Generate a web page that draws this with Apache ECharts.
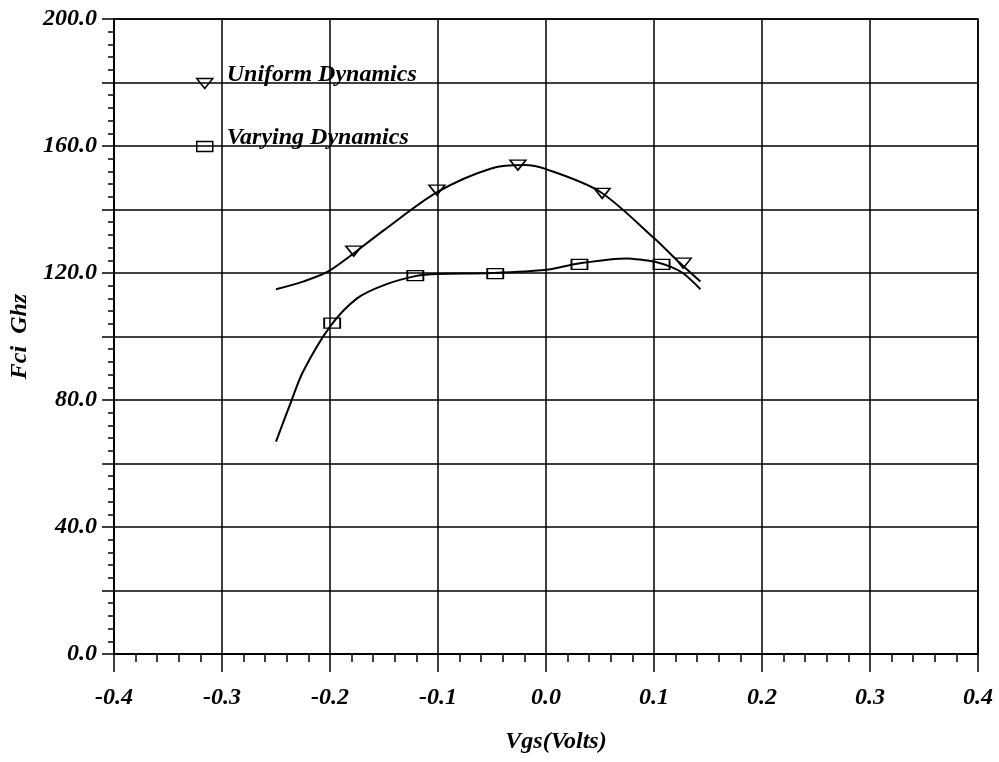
<!DOCTYPE html>
<html>
<head>
<meta charset="utf-8">
<title>Fci vs Vgs</title>
<script src="https://cdn.jsdelivr.net/npm/echarts@6/dist/echarts.min.js"></script>
<style>
  html, body { margin: 0; padding: 0; background: #fff; }
  #chart { width: 999px; height: 762px; }
</style>
</head>
<body>
<div id="chart"></div>
<script>
// Measured points (markers)
const uniformVgs = [-0.178, -0.101, -0.026, 0.052, 0.127];
const uniformFci = [126.9, 146.1, 154.0, 145.1, 123.1];
const varyingVgs = [-0.198, -0.121, -0.047, 0.031, 0.107];
const varyingFci = [104.2, 119.2, 119.8, 122.7, 122.7];

// Fitted curves, sampled along the drawn fit
const uniformFitVgs = [-0.25, -0.225, -0.2, -0.15, -0.1, -0.05, -0.02, 0.0, 0.05, 0.1, 0.121, 0.143];
const uniformFitFci = [114.9, 117.3, 120.8, 133.5, 145.6, 153.0, 154.0, 152.7, 145.6, 131.0, 124.1, 117.3];
const varyingFitVgs = [-0.25, -0.236, -0.225, -0.2, -0.175, -0.15, -0.12, -0.1, -0.05, 0.0, 0.03, 0.075, 0.09, 0.1, 0.115, 0.127, 0.143];
const varyingFitFci = [66.9, 79.5, 88.9, 103.1, 112.0, 116.2, 119.1, 119.7, 120.0, 121.0, 123.0, 124.6, 124.1, 123.6, 122.0, 119.9, 114.9];

// Axis tick labels
const xTickValues = [-0.4, -0.3, -0.2, -0.1, 0.0, 0.1, 0.2, 0.3, 0.4];
const xTickLabels = ['-0.4', '-0.3', '-0.2', '-0.1', '0.0', '0.1', '0.2', '0.3', '0.4'];
const yTickValues = [0, 40, 80, 120, 160, 200];
const yTickLabels = ['0.0', '40.0', '80.0', '120.0', '160.0', '200.0'];

const seriesNames = ['Uniform Dynamics', 'Varying Dynamics'];

const FONT = "'Liberation Serif', 'Times New Roman', serif";
const triPath = 'path://M0,0L16,0L8,10Z';
const rectPath = 'path://M0,0L16,0L16,10L0,10Z';

const zip = (xs, ys) => xs.map((x, i) => [x, ys[i]]);

function labelFor(values, labels, v) {
  for (let i = 0; i < values.length; i++) {
    if (Math.abs(values[i] - v) < 1e-6) return labels[i];
  }
  return '';
}

const labelStyle = {
  fontFamily: FONT, fontStyle: 'italic', fontWeight: 'bold', fontSize: 24, color: '#000'
};

const chart = echarts.init(document.getElementById('chart'), null, { renderer: 'canvas' });

// Legend text sits slightly above its marker, on the grid line
const legendBase = {
  orient: 'vertical',
  left: 191,
  itemWidth: 16,
  itemHeight: 10,
  selectedMode: false,
  formatter: name => '{t|' + name + '}',
  textStyle: Object.assign({}, labelStyle, {
    rich: { t: Object.assign({}, labelStyle, { padding: [0, 0, 17, 9] }) }
  })
};

const markerStyle = { color: 'rgba(0,0,0,0)', borderColor: '#000', borderWidth: 1.5, opacity: 1 };

chart.setOption({
  backgroundColor: '#fff',
  animation: false,
  grid: {
    left: 114, right: 21, top: 19, bottom: 108,
    containLabel: false,
    outerBoundsMode: 'none',
    show: true, borderColor: '#000', borderWidth: 1.5
  },
  legend: [
    Object.assign({}, legendBase, {
      top: 58,
      data: [{ name: seriesNames[0], icon: triPath, itemStyle: markerStyle }]
    }),
    Object.assign({}, legendBase, {
      top: 121,
      data: [{ name: seriesNames[1], icon: rectPath, itemStyle: markerStyle }]
    })
  ],
  xAxis: {
    type: 'value',
    min: -0.4, max: 0.4, interval: 0.1,
    name: 'Vgs(Volts)',
    nameLocation: 'middle',
    nameGap: 76,
    nameTextStyle: Object.assign({}, labelStyle, { padding: [0, 0, 0, 20] }),
    axisLine: { show: true, onZero: false, lineStyle: { color: '#000', width: 1.5 } },
    axisTick: { show: true, length: 18, lineStyle: { color: '#000', width: 1.5 } },
    minorTick: { show: true, splitNumber: 5, length: 8, lineStyle: { color: '#000', width: 1.5 } },
    splitLine: { show: true, lineStyle: { color: '#000', width: 1.5 } },
    axisLabel: Object.assign({}, labelStyle, {
      margin: 32,
      formatter: v => labelFor(xTickValues, xTickLabels, v)
    })
  },
  yAxis: {
    type: 'value',
    min: 0, max: 200, interval: 20,
    name: 'Fci  Ghz',
    nameLocation: 'middle',
    nameGap: 82,
    nameTextStyle: labelStyle,
    axisLine: { show: true, onZero: false, lineStyle: { color: '#000', width: 1.5 } },
    axisTick: { show: true, length: 12, lineStyle: { color: '#000', width: 1.5 } },
    minorTick: { show: true, splitNumber: 5, length: 6, lineStyle: { color: '#000', width: 1.5 } },
    splitLine: { show: true, lineStyle: { color: '#000', width: 1.5 } },
    axisLabel: Object.assign({}, labelStyle, {
      margin: 17,
      formatter: v => labelFor(yTickValues, yTickLabels, v)
    })
  },
  series: [
    {
      name: 'Uniform fit', type: 'line', smooth: 0.3, showSymbol: false, symbol: 'none',
      data: zip(uniformFitVgs, uniformFitFci),
      lineStyle: { color: '#000', width: 2 }, z: 3
    },
    {
      name: 'Varying fit', type: 'line', smooth: 0.3, showSymbol: false, symbol: 'none',
      data: zip(varyingFitVgs, varyingFitFci),
      lineStyle: { color: '#000', width: 2 }, z: 3
    },
    {
      name: seriesNames[0], type: 'scatter',
      symbol: triPath, symbolSize: [16, 10],
      data: zip(uniformVgs, uniformFci),
      itemStyle: markerStyle,
      z: 4
    },
    {
      name: seriesNames[1], type: 'scatter',
      symbol: rectPath, symbolSize: [16, 10],
      data: zip(varyingVgs, varyingFci),
      itemStyle: markerStyle,
      z: 4
    }
  ]
});
</script>
</body>
</html>
